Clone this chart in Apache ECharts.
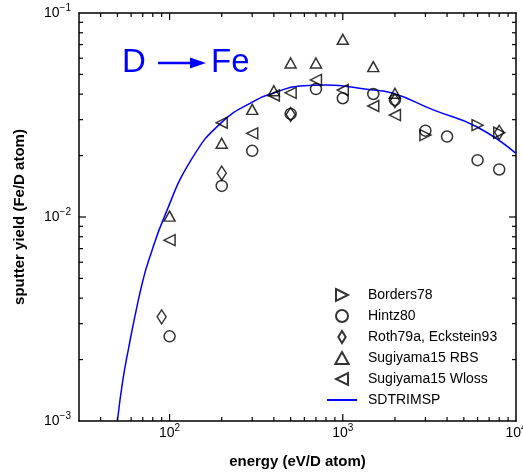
<!DOCTYPE html>
<html>
<head>
<meta charset="utf-8">
<script src="https://cdn.jsdelivr.net/npm/echarts@6/dist/echarts.min.js"></script>
<style>
  html, body { margin: 0; padding: 0; background: #fff; }
  #chart { width: 523px; height: 474px; }
</style>
</head>
<body>
<div id="chart"></div>
<script>
// axis ranges
const xMin = 30
const xMax = 10000
const yMin = 0.001
const yMax = 0.1

// measured yields (Fe/D atom) vs energy (eV/D atom)
const bordersEnergy = [3000, 6000, 8000]
const bordersYield = [0.0252, 0.0282, 0.0259]

const hintzEnergy = [100, 200, 300, 500, 700, 1000, 1500, 2000, 3000, 4000, 6000, 8000]
const hintzYield = [0.0026, 0.0142, 0.0211, 0.032, 0.0424, 0.0382, 0.0401, 0.0375, 0.0265, 0.0248, 0.019, 0.0171]

const rothEnergy = [90, 200, 500, 2000, 8000]
const rothYield = [0.00324, 0.0164, 0.0318, 0.0372, 0.026]

const rbsEnergy = [100, 200, 300, 400, 500, 700, 1000, 1500, 2000]
const rbsYield = [0.0101, 0.023, 0.0337, 0.0416, 0.0569, 0.0569, 0.0743, 0.0546, 0.0404]

const wlossEnergy = [100, 200, 300, 400, 500, 700, 1000, 1500, 2000]
const wlossYield = [0.0077, 0.029, 0.0257, 0.0394, 0.0406, 0.047, 0.0419, 0.035, 0.0316]

// SDTRIMSP simulation curve
const simEnergy = [50, 53.7, 58.2, 63.6, 70.2, 75.9, 93.6, 133.5, 200, 317, 395, 564, 805, 1370, 1950, 3330, 5930, 10000]
const simYield = [0.001, 0.00158, 0.00231, 0.00337, 0.0049, 0.00615, 0.0101, 0.0191, 0.0291, 0.0375, 0.0404, 0.0439, 0.0444, 0.0423, 0.0404, 0.0335, 0.0277, 0.0205]

const font = 'Liberation Sans, Arial, sans-serif'
const zip = (xs, ys) => xs.map((x, i) => [x, ys[i]])

const isPow10 = v => Math.abs(Math.log10(v) - Math.round(Math.log10(v))) < 1e-6
const powLabel = v => {
  if (!isPow10(v)) return ''
  const e = Math.round(Math.log10(v))
  return '{b|10}{s|' + String(e).replace('-', '\u2212') + '}'
}
const labelRich = {
  b: { fontSize: 14, lineHeight: 20, color: '#000', fontFamily: font },
  s: { fontSize: 10, lineHeight: 10, color: '#000', fontFamily: font, verticalAlign: 'top' }
}

const frameLine = () => ({ show: true, onZero: false, lineStyle: { color: '#000', width: 1.5 } })

const hollow = { color: 'rgba(0,0,0,0)', borderColor: '#000', borderWidth: 1.5 }

const chart = echarts.init(document.getElementById('chart'))

const option = {
  animation: false,
  backgroundColor: '#fff',
  grid: { left: 79, right: 7, top: 13, bottom: 53, outerBoundsMode: 'none', containLabel: false },
  xAxis: [
    {
      type: 'log', logBase: 10, min: xMin, max: xMax,
      name: 'energy (eV/D atom)', nameLocation: 'middle', nameGap: 33,
      nameTextStyle: { fontSize: 15, fontWeight: 'bold', color: '#000', fontFamily: font },
      axisLine: frameLine(), axisTick: { show: false }, splitLine: { show: false },
      axisLabel: { margin: 2, formatter: powLabel, rich: labelRich, showMinLabel: false }
    },
    {
      type: 'log', logBase: 10, min: xMin, max: xMax, position: 'top',
      axisLine: frameLine(), axisTick: { show: false }, splitLine: { show: false },
      axisLabel: { show: false }
    }
  ],
  yAxis: [
    {
      type: 'log', logBase: 10, min: yMin, max: yMax,
      name: 'sputter yield (Fe/D atom)', nameLocation: 'middle', nameGap: 52,
      nameTextStyle: { fontSize: 15, fontWeight: 'bold', color: '#000', fontFamily: font },
      axisLine: frameLine(), axisTick: { show: false }, splitLine: { show: false },
      axisLabel: { margin: 8, formatter: powLabel, rich: labelRich }
    },
    {
      type: 'log', logBase: 10, min: yMin, max: yMax, position: 'right',
      axisLine: frameLine(), axisTick: { show: false }, splitLine: { show: false },
      axisLabel: { show: false }
    }
  ],
  legend: {
    orient: 'vertical', left: 321, top: 283,
    itemWidth: 30, itemHeight: 12, itemGap: 7,
    textStyle: { fontSize: 14, color: '#000', fontFamily: font, padding: [0, 0, 0, 6] },
    data: [
      'Borders78', 'Hintz80', 'Roth79a, Eckstein93', 'Sugiyama15 RBS', 'Sugiyama15 Wloss',
      { name: 'SDTRIMSP', itemStyle: { opacity: 0 } }
    ]
  },
  series: [
    {
      name: 'SDTRIMSP', type: 'line', data: zip(simEnergy, simYield),
      symbol: 'none', smooth: true, z: 1,
      lineStyle: { color: '#0000ff', width: 1.5 }, itemStyle: { color: '#0000ff' }
    },
    {
      name: 'Borders78', type: 'scatter', data: zip(bordersEnergy, bordersYield),
      symbol: 'path://M0,0L10,5L0,10Z', symbolSize: [11, 11], itemStyle: hollow
    },
    {
      name: 'Hintz80', type: 'scatter', data: zip(hintzEnergy, hintzYield),
      symbol: 'circle', symbolSize: 11, itemStyle: hollow
    },
    {
      name: 'Roth79a, Eckstein93', type: 'scatter', data: zip(rothEnergy, rothYield),
      symbol: 'path://M4,0L8,6.5L4,13L0,6.5Z', symbolSize: [9, 14], itemStyle: hollow
    },
    {
      name: 'Sugiyama15 RBS', type: 'scatter', data: zip(rbsEnergy, rbsYield),
      symbol: 'path://M5,0L10,9L0,9Z', symbolSize: [11, 10], itemStyle: hollow
    },
    {
      name: 'Sugiyama15 Wloss', type: 'scatter', data: zip(wlossEnergy, wlossYield),
      symbol: 'path://M10,0L10,10L0,5Z', symbolSize: [11, 11], itemStyle: hollow
    }
  ]
}

chart.setOption(option)

// log ticks (major + minor) on all four sides, and the "D -> Fe" label
const addDecorations = () => {
  const toPx = (x, y) => chart.convertToPixel({ gridIndex: 0 }, [x, y])
  const [left, bottom] = toPx(xMin, yMin)
  const [right, top] = toPx(xMax, yMax)
  const g = []
  const tick = (x1, y1, x2, y2) => g.push({
    type: 'line', silent: true, z: 100,
    shape: { x1, y1, x2, y2 },
    style: { stroke: '#000', lineWidth: 1.2 }
  })
  for (let d = 10; d < xMax; d *= 10) {
    for (let k = 1; k <= 9; k++) {
      const v = k * d
      if (v <= xMin || v >= xMax) continue
      const len = k === 1 ? 7 : 4
      const x = toPx(v, yMin)[0]
      tick(x, bottom, x, bottom - len)
      tick(x, top, x, top + len)
    }
  }
  for (let d = yMin; d < yMax * 0.999; d *= 10) {
    for (let k = 1; k <= 9; k++) {
      if (k === 1 && d === yMin) continue
      const len = k === 1 ? 7 : 4
      const y = toPx(xMin, k * d)[1]
      tick(left, y, left + len, y)
      tick(right, y, right - len, y)
    }
  }
  const blue = '#0000ff'
  g.push({ type: 'text', x: 122, y: 63, style: { text: 'D', fill: blue, fontSize: 33, fontFamily: font, verticalAlign: 'middle' } })
  g.push({ type: 'line', shape: { x1: 158, y1: 63, x2: 194, y2: 63 }, style: { stroke: blue, lineWidth: 2.5 } })
  g.push({ type: 'polygon', shape: { points: [[190, 57.5], [206, 63], [190, 68.5]] }, style: { fill: blue } })
  g.push({ type: 'text', x: 211, y: 63, style: { text: 'Fe', fill: blue, fontSize: 33, fontFamily: font, verticalAlign: 'middle' } })
  chart.setOption({ graphic: g })
}
addDecorations()
</script>
</body>
</html>
